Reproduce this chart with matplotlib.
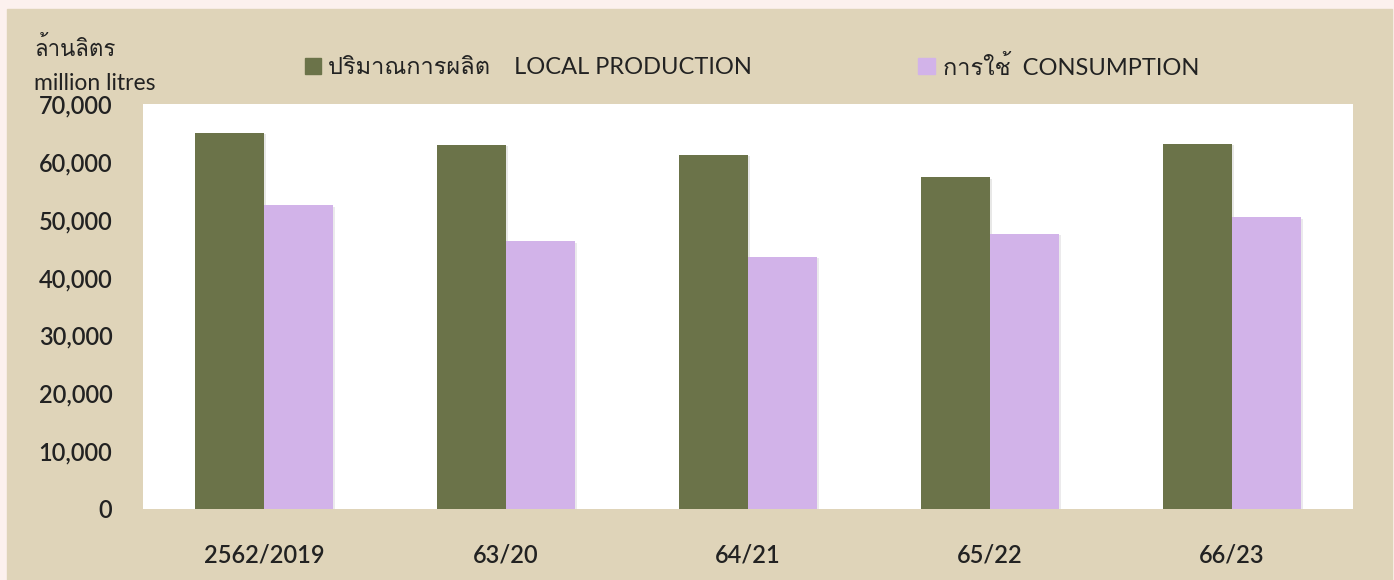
import matplotlib
matplotlib.use("Agg")
from matplotlib import pyplot as plt
from matplotlib import font_manager, patheffects
from matplotlib.ft2font import FT2Font
from matplotlib.patches import Rectangle
from matplotlib.ticker import FuncFormatter
import numpy as np

years = ["2562/2019", "63/20", "64/21", "65/22", "66/23"]
production = [65000, 62900, 61200, 57300, 63100]
consumption = [52500, 46300, 43600, 47600, 50400]

# find some installed font that can draw Thai
thai_font = None
for f in font_manager.fontManager.ttflist:
    try:
        if 0x0E01 in FT2Font(f.fname).get_charmap():
            thai_font = f.name
            break
    except Exception:
        pass

fams = ["Lato"]
if thai_font:
    fams.append(thai_font)
fams.append("DejaVu Sans")
plt.rcParams["font.family"] = fams
plt.rcParams["text.color"] = "#222222"

green = "#6b7349"
purple = "#d2b3e9"
beige = "#dfd4b9"

fig = plt.figure(figsize=(13.94, 5.80), dpi=100)
fig.patch.set_facecolor("#fcf1ee")
fig.patches.append(Rectangle((7 / 1394, 0), 1385 / 1394, 571 / 580,
                             transform=fig.transFigure, color=beige, zorder=-5))

ax = fig.add_axes([143 / 1394, 71 / 580, 1210 / 1394, 405 / 580])
ax.set_zorder(2)
ax.set_facecolor("white")

x = np.arange(len(years))
w = 0.285
shadow = [patheffects.SimplePatchShadow(offset=(1.5, -1), alpha=0.1), patheffects.Normal()]
b1 = ax.bar(x - w / 2, production, w, color=green, zorder=3)
b2 = ax.bar(x + w / 2, consumption, w, color=purple, zorder=3)
for b in list(b1) + list(b2):
    b.set_path_effects(shadow)

ax.set_xlim(-0.5, len(years) - 0.5)
ax.set_ylim(0, 70000)
ax.set_yticks(range(0, 70001, 10000))
ax.yaxis.set_major_formatter(FuncFormatter(lambda v, p: f"{int(v):,}"))
ax.set_xticks(x)
ax.set_xticklabels(years)
ax.tick_params(axis="y", length=0, pad=22, labelsize=17, labelcolor="#222222")
ax.tick_params(axis="x", length=0, pad=25, labelsize=17, labelcolor="#222222")
for lab in ax.get_xticklabels() + ax.get_yticklabels():
    lab.set_fontweight("semibold")
for s in ax.spines.values():
    s.set_visible(False)

# axis unit label
fig.text(34 / 1394, 1 - 48 / 580, "ล้านลิตร", fontsize=16, va="center", ha="left")
fig.text(34 / 1394, 1 - 83 / 580, "million litres", fontsize=16.5, va="center", ha="left")

# legend drawn by hand
ly = 1 - 67 / 580
fig.patches.append(Rectangle((305 / 1394, 1 - 74 / 580), 16 / 1394, 16 / 580,
                             transform=fig.transFigure, color=green))
fig.text(328 / 1394, ly, "ปริมาณการผลิต    LOCAL PRODUCTION", fontsize=17, va="center", ha="left")
fig.patches.append(Rectangle((918 / 1394, 1 - 74 / 580), 17 / 1394, 16 / 580,
                             transform=fig.transFigure, color=purple))
fig.text(943 / 1394, ly, "การใช้  CONSUMPTION", fontsize=17, va="center", ha="left")

fig.savefig("out.png", dpi=100, facecolor=fig.get_facecolor())
